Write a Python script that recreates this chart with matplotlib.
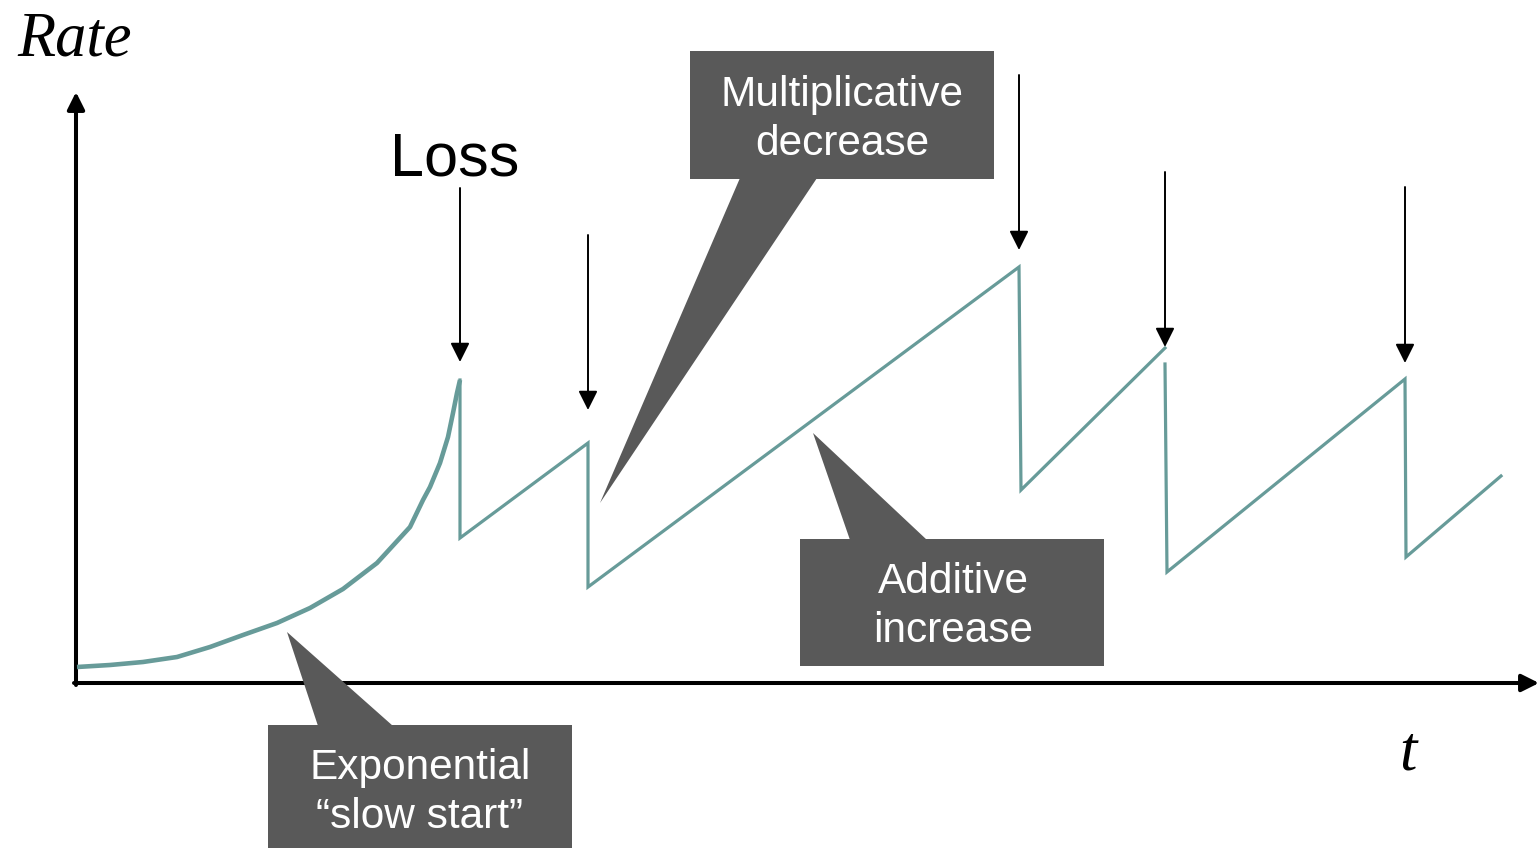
import numpy as np
import matplotlib
matplotlib.use('Agg')
import matplotlib.pyplot as plt
from matplotlib.patches import Polygon, Rectangle

# chart units: t to the right of the origin, rate above it
slow_t = [1, 34, 67, 101, 134, 167, 201, 234, 267, 301, 334, 347, 354, 364, 372, 377, 381, 384]
slow_rate = [16, 18, 21, 26, 36, 48, 60, 75, 94, 120, 156, 183, 196, 220, 246, 270, 290, 303]

aimd_t = [384, 384, 512, 512, 943, 945, 1089, np.nan, 1089, 1091, 1329, 1330, 1425]
aimd_rate = [303, 145, 240, 96, 416, 193, 335, np.nan, 319, 111, 304, 126, 207]

loss_t = [384, 512, 943, 1089, 1329]
loss_top = [495, 448, 608, 511, 496]
loss_tip = [321, 273, 433, 336, 320]

teal = '#679b99'
grey = '#595959'

fig = plt.figure(figsize=(15.39, 8.48), dpi=100)
ax = fig.add_axes([0, 0, 1, 1])
ax.set_xlim(-76, 1463)
ax.set_ylim(-165, 683)
ax.axis('off')

# axes with arrow heads
ax.annotate('', xy=(0, 591), xytext=(0, -2),
            arrowprops=dict(arrowstyle='-|>', lw=2.9, color='k',
                            mutation_scale=26, shrinkA=0, shrinkB=0), zorder=2)
ax.annotate('', xy=(1463, 0), xytext=(-2, 0),
            arrowprops=dict(arrowstyle='-|>', lw=2.9, color='k',
                            mutation_scale=26, shrinkA=0, shrinkB=0), zorder=2)

ax.plot(slow_t, slow_rate, color=teal, lw=3.3, solid_capstyle='butt',
        solid_joinstyle='round', zorder=3)
ax.plot(aimd_t, aimd_rate, color=teal, lw=2.3, solid_joinstyle='miter', zorder=3)

for t, top, tip in zip(loss_t, loss_top, loss_tip):
    ax.annotate('', xy=(t, tip), xytext=(t, top),
                arrowprops=dict(arrowstyle='-|>', lw=1.4, color='k',
                                mutation_scale=29, shrinkA=0, shrinkB=0), zorder=4)

# callouts: box corner, width, height, pointer triangle
callouts = [
    ((614, 504), 304, 128, [(664, 505), (741, 505), (524, 180)],
     [('Multiplicative', 577), ('decrease', 528)], 766),
    ((724, 17), 304, 127, [(774, 143), (851, 143), (737, 250)],
     [('Additive', 90), ('increase', 41)], 877),
    ((192, -175), 304, 133, [(242, -43), (317, -43), (211, 51)],
     [('Exponential', -96), ('\u201cslow start\u201d', -145)], 344),
]
for (x0, y0), w, h, tri, lines, cx in callouts:
    ax.add_patch(Rectangle((x0, y0), w, h, facecolor=grey, edgecolor='none', zorder=5))
    ax.add_patch(Polygon(tri, closed=True, facecolor=grey, edgecolor='none', zorder=5))
    for txt, base in lines:
        ax.text(cx, base, txt, color='white', fontsize=30.5, family='Liberation Sans',
                ha='center', va='baseline', zorder=6)

ax.text(-1, 628, 'Rate', fontsize=45, family='Liberation Serif', style='italic',
        ha='center', va='baseline')
ax.text(1332, -87, 't', fontsize=45, family='Liberation Serif', style='italic',
        ha='center', va='baseline')
ax.text(379, 507, 'Loss', fontsize=44, family='Liberation Sans',
        ha='center', va='baseline')

fig.savefig('out.png', dpi=100)
